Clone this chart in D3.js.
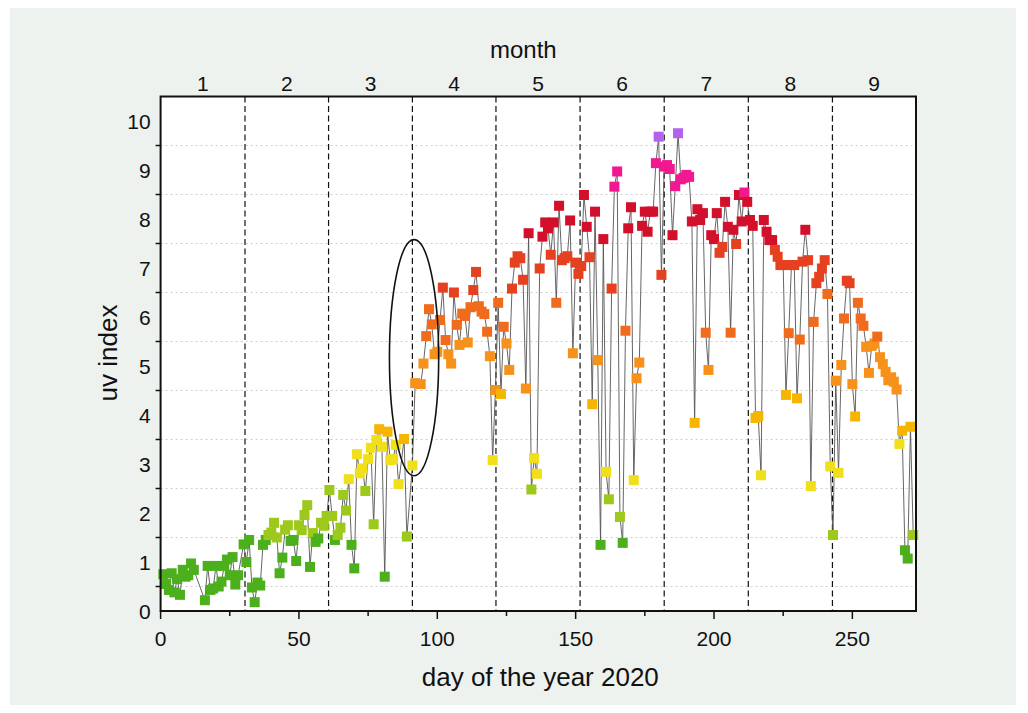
<!DOCTYPE html>
<html><head><meta charset="utf-8">
<script src="https://cdn.jsdelivr.net/npm/d3@7"></script>
<style>html,body{margin:0;padding:0;background:#fff;}svg{display:block;font-family:"Liberation Sans",Arial,Helvetica,sans-serif;}</style>
</head><body>
<svg id="c" width="1028" height="713"></svg>
<script>
// ---- data ----
const days = [1,2,3,4,5,6,7,8,9,10,11,12,16,17,18,19,20,21,22,23,24,25,26,27,28,30,31,32,33,34,35,36,37,38,39,40,41,42,43,44,45,46,47,48,49,50,51,52,53,54,55,56,57,58,59,60,61,62,63,64,65,66,67,68,69,70,71,72,73,74,75,76,77,78,79,80,81,82,83,84,85,86,88,89,91,92,94,95,96,97,98,99,100,101,102,103,104,105,106,107,108,109,110,111,112,113,114,115,116,117,118,119,120,121,122,123,124,125,126,127,128,129,130,131,132,133,134,135,136,137,138,139,140,141,142,143,144,145,146,147,148,149,150,151,152,153,154,155,156,157,158,159,160,161,162,163,164,165,166,167,168,169,170,171,172,173,174,175,176,177,178,179,180,181,182,183,184,185,186,187,188,189,190,191,192,193,194,195,196,197,198,199,200,201,202,203,204,205,206,207,208,209,210,211,212,213,214,215,216,217,218,219,220,221,222,223,224,225,226,227,228,229,230,231,232,233,234,235,236,237,238,239,240,241,242,243,244,245,246,247,248,249,250,251,252,253,254,255,256,257,258,259,260,261,262,263,264,265,266,267,268,269,270,271,272];
const uvIndex = [0.75,0.55,0.43,0.77,0.38,0.65,0.33,0.84,0.7,0.73,0.97,0.84,0.22,0.92,0.43,0.46,0.92,0.5,0.6,0.92,1.05,0.73,1.1,0.54,0.73,1.36,1.0,1.45,0.48,0.18,0.58,0.52,1.35,1.45,1.55,1.6,1.8,1.5,0.77,1.09,1.66,1.75,1.43,1.45,1.02,1.75,1.65,1.96,2.16,0.9,1.59,1.41,1.48,1.8,1.74,1.94,2.47,1.94,1.45,1.55,1.7,2.37,2.05,2.69,1.35,0.87,3.2,2.81,2.91,2.45,3.1,3.33,1.77,3.49,3.71,3.35,0.7,3.66,3.08,3.1,3.39,2.59,3.51,1.52,2.97,4.65,4.63,5.05,5.61,6.16,5.85,5.24,5.29,5.94,6.6,5.53,5.24,5.05,6.5,5.84,5.43,6.07,6.02,5.48,6.2,6.55,6.92,6.22,6.11,6.06,5.7,5.2,3.08,4.51,6.29,4.43,5.8,5.46,4.92,6.58,7.11,7.24,7.2,6.76,4.54,7.71,2.48,3.12,2.8,6.99,7.64,7.93,7.81,7.27,7.93,6.29,8.27,7.16,7.2,7.24,7.97,5.26,7.11,6.88,7.04,8.49,7.84,7.22,4.22,8.15,5.12,1.35,7.59,2.84,2.28,6.58,8.66,8.97,1.92,1.39,5.72,7.81,8.24,2.67,4.75,5.07,7.86,8.15,7.74,8.15,8.15,9.14,9.68,6.86,9.07,9.1,9.02,7.67,8.67,9.75,8.81,8.84,8.9,8.86,7.95,3.84,8.2,7.98,8.12,5.68,4.92,7.67,7.59,8.12,7.31,7.43,8.35,7.84,5.68,7.78,7.49,8.49,7.95,8.54,8.35,7.98,7.86,3.94,3.98,2.77,7.98,7.74,7.57,7.57,7.37,7.23,7.06,7.06,4.41,5.67,7.06,7.06,4.34,5.54,7.13,7.78,7.16,2.55,5.9,6.69,6.82,6.99,7.16,6.47,2.95,1.55,4.7,2.82,5.02,5.97,6.74,6.69,4.63,3.97,6.29,5.97,5.82,5.39,4.86,5.41,5.46,5.6,5.18,5.04,4.88,4.71,4.77,4.68,4.52,3.41,3.68,1.24,1.07,3.76,1.55];
const monthLabels = ["1","2","3","4","5","6","7","8","9"];
const monthStarts = [0,30.5,60.7,91,121.2,151.6,182,212.4,242.8];
const monthEnd = 273;
const xTicks = [0,50,100,150,200,250];
const xMinorTicks = [25,75,125,175,225];
const yTickLabels = [0,1,2,3,4,5,6,7,8,9,10];
const yMinorTicks = [0.5,1.5,2.5,3.5,4.5,5.5,6.5,7.5,8.5,9.5];
const uvClassColors = ["#4caf1c","#4caf1c","#9dc81c","#f1df1a","#f6b500","#f6921a","#f06c1c","#e5401f","#d3102b","#f2188f","#b262ee"];
const highlight = {day: 91.6, uv: 5.17, rDays: 8.9, rUv: 2.41};

// ---- layout ----
const svg = d3.select("#c");
const L = 160.6, R = 916, T = 96.5, B = 611;
const x = d3.scaleLinear().domain([0, 273]).range([L, R]);
const y = d3.scaleLinear().domain([0, 10.5]).range([B, T]);
const colorOf = v => uvClassColors[Math.max(0, Math.min(10, Math.round(v)))];

svg.append("rect").attr("x",10).attr("y",8).attr("width",1006).attr("height",697).attr("fill","#edf2ef");
svg.append("rect").attr("x",L).attr("y",T).attr("width",R-L).attr("height",B-T).attr("fill","#fff");

// gridlines at half values
svg.append("g").selectAll("line").data(yMinorTicks).join("line")
  .attr("x1",L).attr("x2",R).attr("y1",d=>y(d)).attr("y2",d=>y(d))
  .attr("stroke","#cfcfcf").attr("stroke-width",1).attr("stroke-dasharray","2,3");

// month boundary dashed lines
svg.append("g").selectAll("line").data(monthStarts.slice(1)).join("line")
  .attr("x1",d=>x(d)).attr("x2",d=>x(d)).attr("y1",T).attr("y2",B)
  .attr("stroke","#111").attr("stroke-width",1.2).attr("stroke-dasharray","6,3.5");

// series line
const pts = days.map((d,i)=>({d, v: uvIndex[i]}));
svg.append("path").datum(pts)
  .attr("d", d3.line().x(p=>x(p.d)).y(p=>y(p.v)))
  .attr("fill","none").attr("stroke","#555").attr("stroke-width",0.9);

// markers
const S = 10;
svg.append("g").selectAll("rect").data(pts).join("rect")
  .attr("x",p=>x(p.d)-S/2).attr("y",p=>y(p.v)-S/2).attr("width",S).attr("height",S)
  .attr("fill",p=>colorOf(p.v));

// highlight ellipse
svg.append("ellipse")
  .attr("cx",x(highlight.day)).attr("cy",y(highlight.uv))
  .attr("rx",x(highlight.rDays)-x(0)).attr("ry",y(0)-y(highlight.rUv))
  .attr("fill","none").attr("stroke","#111").attr("stroke-width",1.6);

// frame
svg.append("rect").attr("x",L).attr("y",T).attr("width",R-L).attr("height",B-T)
  .attr("fill","none").attr("stroke","#111").attr("stroke-width",2);

// bottom axis
const gb = svg.append("g");
gb.selectAll("line.maj").data(xTicks).join("line").attr("class","maj")
  .attr("x1",d=>x(d)).attr("x2",d=>x(d)).attr("y1",B).attr("y2",B+8).attr("stroke","#111").attr("stroke-width",1.5);
gb.selectAll("line.min").data(xMinorTicks).join("line").attr("class","min")
  .attr("x1",d=>x(d)).attr("x2",d=>x(d)).attr("y1",B).attr("y2",B+5).attr("stroke","#111").attr("stroke-width",1.5);
gb.selectAll("text").data(xTicks).join("text")
  .attr("x",d=>x(d)).attr("y",B+35).attr("text-anchor","middle")
  .attr("font-size",21).attr("fill","#111").text(d=>d);
svg.append("text").attr("x",(L+R)/2+2).attr("y",686).attr("text-anchor","middle")
  .attr("font-size",26).attr("fill","#111").text("day of the year 2020");

// left axis
const gl = svg.append("g");
gl.selectAll("line").data(yMinorTicks).join("line")
  .attr("x1",L-5).attr("x2",L).attr("y1",d=>y(d)).attr("y2",d=>y(d)).attr("stroke","#111").attr("stroke-width",1.5);
gl.selectAll("text").data(yTickLabels).join("text")
  .attr("x",L-10).attr("y",d=>y(d)).attr("dy","0.36em").attr("text-anchor","end")
  .attr("font-size",21).attr("fill","#111").text(d=>d);
svg.append("text").attr("transform",`translate(117,${353}) rotate(-90)`).attr("text-anchor","middle")
  .attr("font-size",26).attr("fill","#111").text("uv index");

// top axis (months)
const monthCenters = monthStarts.map((s,i)=> (s + (i<monthStarts.length-1 ? monthStarts[i+1] : monthEnd))/2);
svg.append("g").selectAll("text").data(monthLabels).join("text")
  .attr("x",(d,i)=>x(monthCenters[i])).attr("y",91).attr("text-anchor","middle")
  .attr("font-size",21).attr("fill","#111").text(d=>d);
svg.append("text").attr("x",(L+R)/2-15).attr("y",58).attr("text-anchor","middle")
  .attr("font-size",24).attr("fill","#111").text("month");
</script>
</body></html>
